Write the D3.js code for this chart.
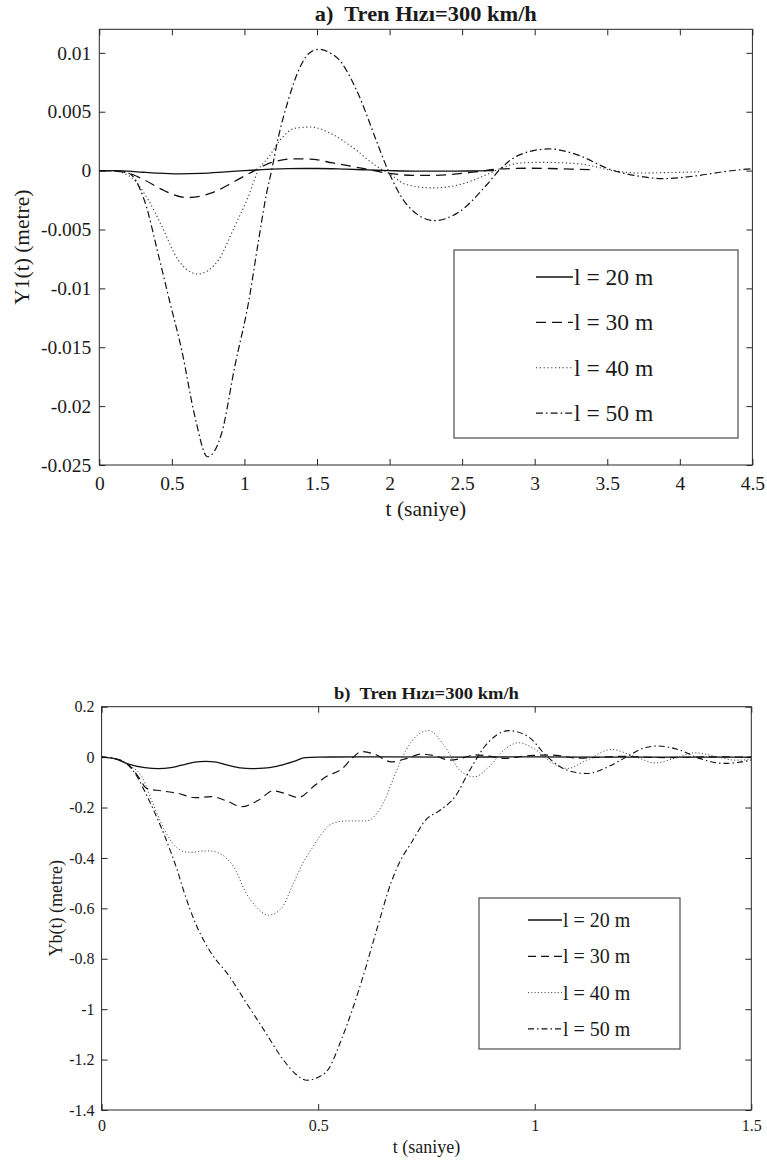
<!DOCTYPE html>
<html>
<head>
<meta charset="utf-8">
<script src="https://cdn.jsdelivr.net/npm/d3@7"></script>
<style>
  html, body { margin: 0; padding: 0; background: #ffffff; }
  svg { display: block; }
  text { font-family: "Liberation Serif", "Times New Roman", serif; fill: #1a1a1a; }
</style>
</head>
<body>
<svg id="chart" width="767" height="1168"></svg>
<script>
// ---------------- DATA ----------------
// Series labels
const seriesLabels = ["l = 20 m", "l = 30 m", "l = 40 m", "l = 50 m"];

// Chart a) Y1(t) in metres
const tA20 = [0, 0.1, 0.2, 0.3, 0.4, 0.55, 0.7, 0.85, 1.0, 1.15, 1.3, 1.5, 1.7, 1.85, 2.0, 2.2, 2.4, 2.6, 2.72];
const yA20 = [0, 0, -0.00005, -0.00014, -0.00022, -0.00028, -0.00024, -0.00013, 0, 0.0001, 0.00017, 0.00018, 0.00012, 0.00006, 0, -0.00005, -0.00005, -0.00002, 0];

const tA30 = [0, 0.1, 0.2, 0.315, 0.43, 0.6, 0.774, 0.934, 1.07, 1.187, 1.35, 1.45, 1.61, 1.795, 1.98, 2.16, 2.3, 2.415, 2.62, 2.76, 2.94, 3.1, 3.25, 3.38];
const yA30 = [0, -0.00003, -0.0002, -0.00082, -0.0016, -0.00229, -0.0019, -0.0009, 0, 0.0007, 0.001, 0.00098, 0.00065, 0.00023, -0.0002, -0.0004, -0.0004, -0.00034, -0.00006, 0.00014, 0.0002, 0.00018, 0.00012, 0.00008];

const tA40 = [0, 0.1, 0.223, 0.338, 0.43, 0.544, 0.68, 0.82, 0.934, 1.027, 1.095, 1.164, 1.26, 1.35, 1.46, 1.61, 1.75, 1.91, 1.99, 2.12, 2.3, 2.48, 2.67, 2.76, 2.9, 3.03, 3.15, 3.33, 3.54, 3.72, 3.91, 4.14];
const yA40 = [0, -0.00003, -0.0006, -0.0025, -0.0047, -0.0076, -0.00878, -0.0076, -0.0047, -0.0022, 0, 0.0011, 0.0028, 0.0036, 0.0037, 0.00306, 0.00193, 0.00037, -0.0002, -0.0012, -0.00147, -0.0012, -0.00034, 0.00017, 0.00065, 0.0007, 0.00068, 0.00054, 0, -0.0002, -0.00017, -0.0001];

const tA50 = [0, 0.1, 0.2, 0.31, 0.41, 0.487, 0.567, 0.659, 0.746, 0.843, 0.934, 1.031, 1.095, 1.153, 1.187, 1.233, 1.30, 1.38, 1.44, 1.51, 1.59, 1.66, 1.73, 1.795, 1.91, 1.99, 2.12, 2.31, 2.48, 2.67, 2.76, 2.9, 3.1, 3.29, 3.52, 3.72, 3.88, 4.09, 4.32, 4.5];
const yA50 = [0, -0.00003, -0.0002, -0.0025, -0.0073, -0.0112, -0.0152, -0.0209, -0.0243, -0.0223, -0.0166, -0.011, -0.0061, -0.0019, 0, 0.0028, 0.0059, 0.0087, 0.0099, 0.0103, 0.01, 0.0093, 0.0079, 0.0062, 0.0025, 0, -0.0029, -0.00425, -0.0035, -0.0012, 0.0001, 0.00136, 0.00184, 0.00136, 0.0001, -0.00048, -0.00068, -0.00048, -0.00006, 0.00017];

const xTicksA = [0, 0.5, 1, 1.5, 2, 2.5, 3, 3.5, 4, 4.5];
const yTicksA = [-0.025, -0.02, -0.015, -0.01, -0.005, 0, 0.005, 0.01];

// Chart b) Yb(t) in metres
const tB20 = [0, 0.03, 0.062, 0.1, 0.131, 0.16, 0.185, 0.215, 0.24, 0.265, 0.293, 0.32, 0.347, 0.375, 0.40, 0.425, 0.446, 0.47, 0.5, 0.6, 0.8, 1.0, 1.2, 1.5];
const yB20 = [0, -0.006, -0.028, -0.042, -0.046, -0.042, -0.032, -0.02, -0.017, -0.02, -0.033, -0.043, -0.046, -0.044, -0.038, -0.027, -0.016, -0.002, 0, 0.001, 0, 0.001, 0, 0];

const tB30 = [0, 0.03, 0.062, 0.085, 0.104, 0.139, 0.177, 0.216, 0.254, 0.293, 0.323, 0.362, 0.396, 0.423, 0.454, 0.493, 0.516, 0.556, 0.578, 0.6, 0.63, 0.669, 0.705, 0.737, 0.77, 0.804, 0.835, 0.861, 0.895, 0.929, 0.96, 0.996, 1.04, 1.1, 1.2, 1.3, 1.4, 1.5];
const yB30 = [0, -0.006, -0.03, -0.078, -0.124, -0.134, -0.144, -0.161, -0.157, -0.177, -0.197, -0.171, -0.134, -0.144, -0.16, -0.111, -0.08, -0.045, -0.005, 0.022, 0.012, -0.019, -0.005, 0.012, 0.005, -0.012, -0.003, 0.009, 0.004, -0.005, 0, 0.007, 0.008, -0.004, 0.003, -0.002, 0.001, 0];

const tB40 = [0, 0.03, 0.06, 0.093, 0.115, 0.138, 0.155, 0.172, 0.19, 0.206, 0.23, 0.251, 0.27, 0.285, 0.31, 0.33, 0.355, 0.386, 0.415, 0.443, 0.465, 0.488, 0.51, 0.533, 0.567, 0.59, 0.612, 0.635, 0.655, 0.669, 0.703, 0.731, 0.755, 0.793, 0.827, 0.861, 0.895, 0.929, 0.963, 0.997, 1.042, 1.075, 1.12, 1.177, 1.234, 1.279, 1.324, 1.369, 1.425, 1.46, 1.5];
const yB40 = [0, -0.006, -0.03, -0.078, -0.17, -0.263, -0.32, -0.356, -0.375, -0.378, -0.373, -0.372, -0.38, -0.396, -0.45, -0.528, -0.59, -0.627, -0.6, -0.5, -0.42, -0.356, -0.3, -0.263, -0.253, -0.253, -0.253, -0.224, -0.165, -0.105, 0.028, 0.09, 0.105, 0.041, -0.052, -0.078, -0.038, 0.028, 0.057, 0.035, -0.025, -0.045, -0.012, 0.03, 0, -0.023, -0.004, 0.017, 0, -0.012, -0.01];

const tB50 = [0, 0.03, 0.06, 0.082, 0.105, 0.127, 0.145, 0.161, 0.175, 0.189, 0.217, 0.251, 0.296, 0.33, 0.375, 0.42, 0.45, 0.474, 0.5, 0.522, 0.556, 0.601, 0.635, 0.669, 0.69, 0.714, 0.748, 0.782, 0.816, 0.85, 0.884, 0.91, 0.94, 0.985, 1.03, 1.075, 1.12, 1.177, 1.211, 1.256, 1.284, 1.335, 1.38, 1.437, 1.5];
const yB50 = [0, -0.006, -0.03, -0.078, -0.155, -0.237, -0.31, -0.382, -0.45, -0.528, -0.66, -0.772, -0.872, -0.964, -1.083, -1.202, -1.26, -1.282, -1.27, -1.242, -1.11, -0.885, -0.686, -0.495, -0.41, -0.343, -0.25, -0.21, -0.157, -0.052, 0.041, 0.085, 0.105, 0.081, 0, -0.052, -0.065, -0.032, 0, 0.038, 0.044, 0.028, -0.005, -0.025, -0.012];

const xTicksB = [0, 0.5, 1, 1.5];
const yTicksB = [-1.4, -1.2, -1, -0.8, -0.6, -0.4, -0.2, 0, 0.2];

// ---------------- DRAWING ----------------
const svg = d3.select("#chart");
const AX = "#262626";
const FONT = '"Liberation Serif", "Times New Roman", serif';
const fmt = v => String(+v.toFixed(4));

function drawPanel(cfg) {
  const g = svg.append("g");
  const x = d3.scaleLinear().domain(cfg.xDomain).range([cfg.left, cfg.right]);
  const y = d3.scaleLinear().domain(cfg.yDomain).range([cfg.bottom, cfg.top]);
  const W = cfg.right - cfg.left, H = cfg.bottom - cfg.top;

  const clipId = "clip" + cfg.id;
  svg.append("defs").append("clipPath").attr("id", clipId)
    .append("rect").attr("x", cfg.left).attr("y", cfg.top - 1).attr("width", W).attr("height", H + 2);

  // axes with inward ticks
  const tl = cfg.tick;
  const axB = g.append("g").attr("transform", `translate(0,${cfg.bottom})`)
    .call(d3.axisBottom(x).tickValues(cfg.xTicks).tickSizeInner(-tl).tickSizeOuter(0).tickPadding(cfg.xPad).tickFormat(fmt));
  const axT = g.append("g").attr("transform", `translate(0,${cfg.top})`)
    .call(d3.axisTop(x).tickValues(cfg.xTicks).tickSizeInner(-tl).tickSizeOuter(0).tickFormat(""));
  const axL = g.append("g").attr("transform", `translate(${cfg.left},0)`)
    .call(d3.axisLeft(y).tickValues(cfg.yTicks).tickSizeInner(-tl).tickSizeOuter(0).tickPadding(cfg.yPad).tickFormat(fmt));
  const axR = g.append("g").attr("transform", `translate(${cfg.right},0)`)
    .call(d3.axisRight(y).tickValues(cfg.yTicks).tickSizeInner(-tl).tickSizeOuter(0).tickFormat(""));
  [axB, axT, axL, axR].forEach(a => {
    a.attr("font-family", FONT);
    a.select(".domain").remove();
    a.selectAll("line").attr("stroke", AX).attr("stroke-width", 1);
    a.selectAll("text").attr("fill", "#1a1a1a")
      .style("font-family", FONT)
      .style("font-size", cfg.tickFont + "px");
  });
  axB.selectAll("text").attr("dy", null).attr("dominant-baseline", "hanging");

  // frame
  g.append("rect").attr("x", cfg.left).attr("y", cfg.top).attr("width", W).attr("height", H)
    .attr("fill", "none").attr("stroke", AX).attr("stroke-width", 1);

  // series lines
  const line = d3.line().x(d => x(d[0])).y(d => y(d[1])).curve(d3.curveMonotoneX);
  const lg = g.append("g").attr("clip-path", `url(#${clipId})`);
  cfg.series.forEach((s, i) => {
    const pts = s.t.map((tv, k) => [tv, s.v[k]]);
    lg.append("path").datum(pts).attr("d", line)
      .attr("fill", "none").attr("stroke", cfg.styles[i].color)
      .attr("stroke-width", cfg.styles[i].width)
      .attr("stroke-dasharray", cfg.styles[i].dash)
      .attr("stroke-linejoin", "round");
  });

  // titles / labels
  g.append("text").attr("x", (cfg.left + cfg.right) / 2).attr("y", cfg.titleY)
    .attr("text-anchor", "middle").attr("xml:space", "preserve")
    .attr("textLength", cfg.titleLen).attr("lengthAdjust", "spacingAndGlyphs")
    .style("white-space", "pre").style("font-weight", "bold").style("font-size", cfg.titleFont + "px")
    .text(cfg.title);
  g.append("text").attr("x", (cfg.left + cfg.right) / 2).attr("y", cfg.xLabelY)
    .attr("text-anchor", "middle").style("font-size", cfg.labelFont + "px").text("t (saniye)");
  g.append("text").attr("transform", `translate(${cfg.yLabelX},${(cfg.top + cfg.bottom) / 2}) rotate(-90)`)
    .attr("text-anchor", "middle").attr("dominant-baseline", "central")
    .style("font-size", cfg.labelFont + "px").text(cfg.yLabel);

  // legend
  const L = cfg.legend;
  g.append("rect").attr("x", L.x).attr("y", L.y).attr("width", L.w).attr("height", L.h)
    .attr("fill", "#ffffff").attr("stroke", "#4d4d4d").attr("stroke-width", 1.2);
  seriesLabels.forEach((lab, i) => {
    const cy = L.y + L.first + i * L.step;
    g.append("line").attr("x1", L.lx1).attr("x2", L.lx2).attr("y1", cy).attr("y2", cy)
      .attr("stroke", cfg.styles[i].color).attr("stroke-width", cfg.styles[i].width)
      .attr("stroke-dasharray", cfg.styles[i].dash);
    g.append("text").attr("x", L.lx2 + 1).attr("y", cy).attr("dominant-baseline", "central")
      .style("font-size", L.font + "px").text(lab);
  });
}

drawPanel({
  id: "a",
  left: 99.3, right: 752.4, top: 29.3, bottom: 465,
  xDomain: [0, 4.5], yDomain: [-0.025, 0.012],
  xTicks: xTicksA, yTicks: yTicksA,
  tick: 6, xPad: 11, yPad: 8, tickFont: 19.5,
  title: "a)  Tren Hızı=300 km/h", titleY: 20.5, titleFont: 20, titleLen: 222,
  xLabelY: 516, yLabel: "Y1(t) (metre)", yLabelX: 22, labelFont: 21.5,
  series: [{t: tA20, v: yA20}, {t: tA30, v: yA30}, {t: tA40, v: yA40}, {t: tA50, v: yA50}],
  styles: [
    {color: "#111", width: 1.3, dash: null},
    {color: "#111", width: 1.3, dash: "10,6"},
    {color: "#333", width: 1.1, dash: "1.2,2.6"},
    {color: "#111", width: 1.2, dash: "7,3,1.6,3"}
  ],
  legend: {x: 454, y: 250, w: 284, h: 188, first: 27, step: 45.4, lx1: 536, lx2: 573, font: 23.5}
});

drawPanel({
  id: "b",
  left: 101.6, right: 751.3, top: 706.7, bottom: 1110,
  xDomain: [0, 1.5], yDomain: [-1.4, 0.2],
  xTicks: xTicksB, yTicks: yTicksB,
  tick: 6, xPad: 10, yPad: 7, tickFont: 16,
  title: "b)  Tren Hızı=300 km/h", titleY: 699, titleFont: 17, titleLen: 185,
  xLabelY: 1153, yLabel: "Yb(t) (metre)", yLabelX: 56, labelFont: 18,
  series: [{t: tB20, v: yB20}, {t: tB30, v: yB30}, {t: tB40, v: yB40}, {t: tB50, v: yB50}],
  styles: [
    {color: "#111", width: 1.3, dash: null},
    {color: "#111", width: 1.2, dash: "8,5"},
    {color: "#444", width: 1.0, dash: "1.1,2.2"},
    {color: "#111", width: 1.1, dash: "6,3,1.5,3"}
  ],
  legend: {x: 479, y: 898, w: 201, h: 151, first: 22, step: 36.3, lx1: 528, lx2: 562, font: 20}
});
</script>
</body>
</html>
